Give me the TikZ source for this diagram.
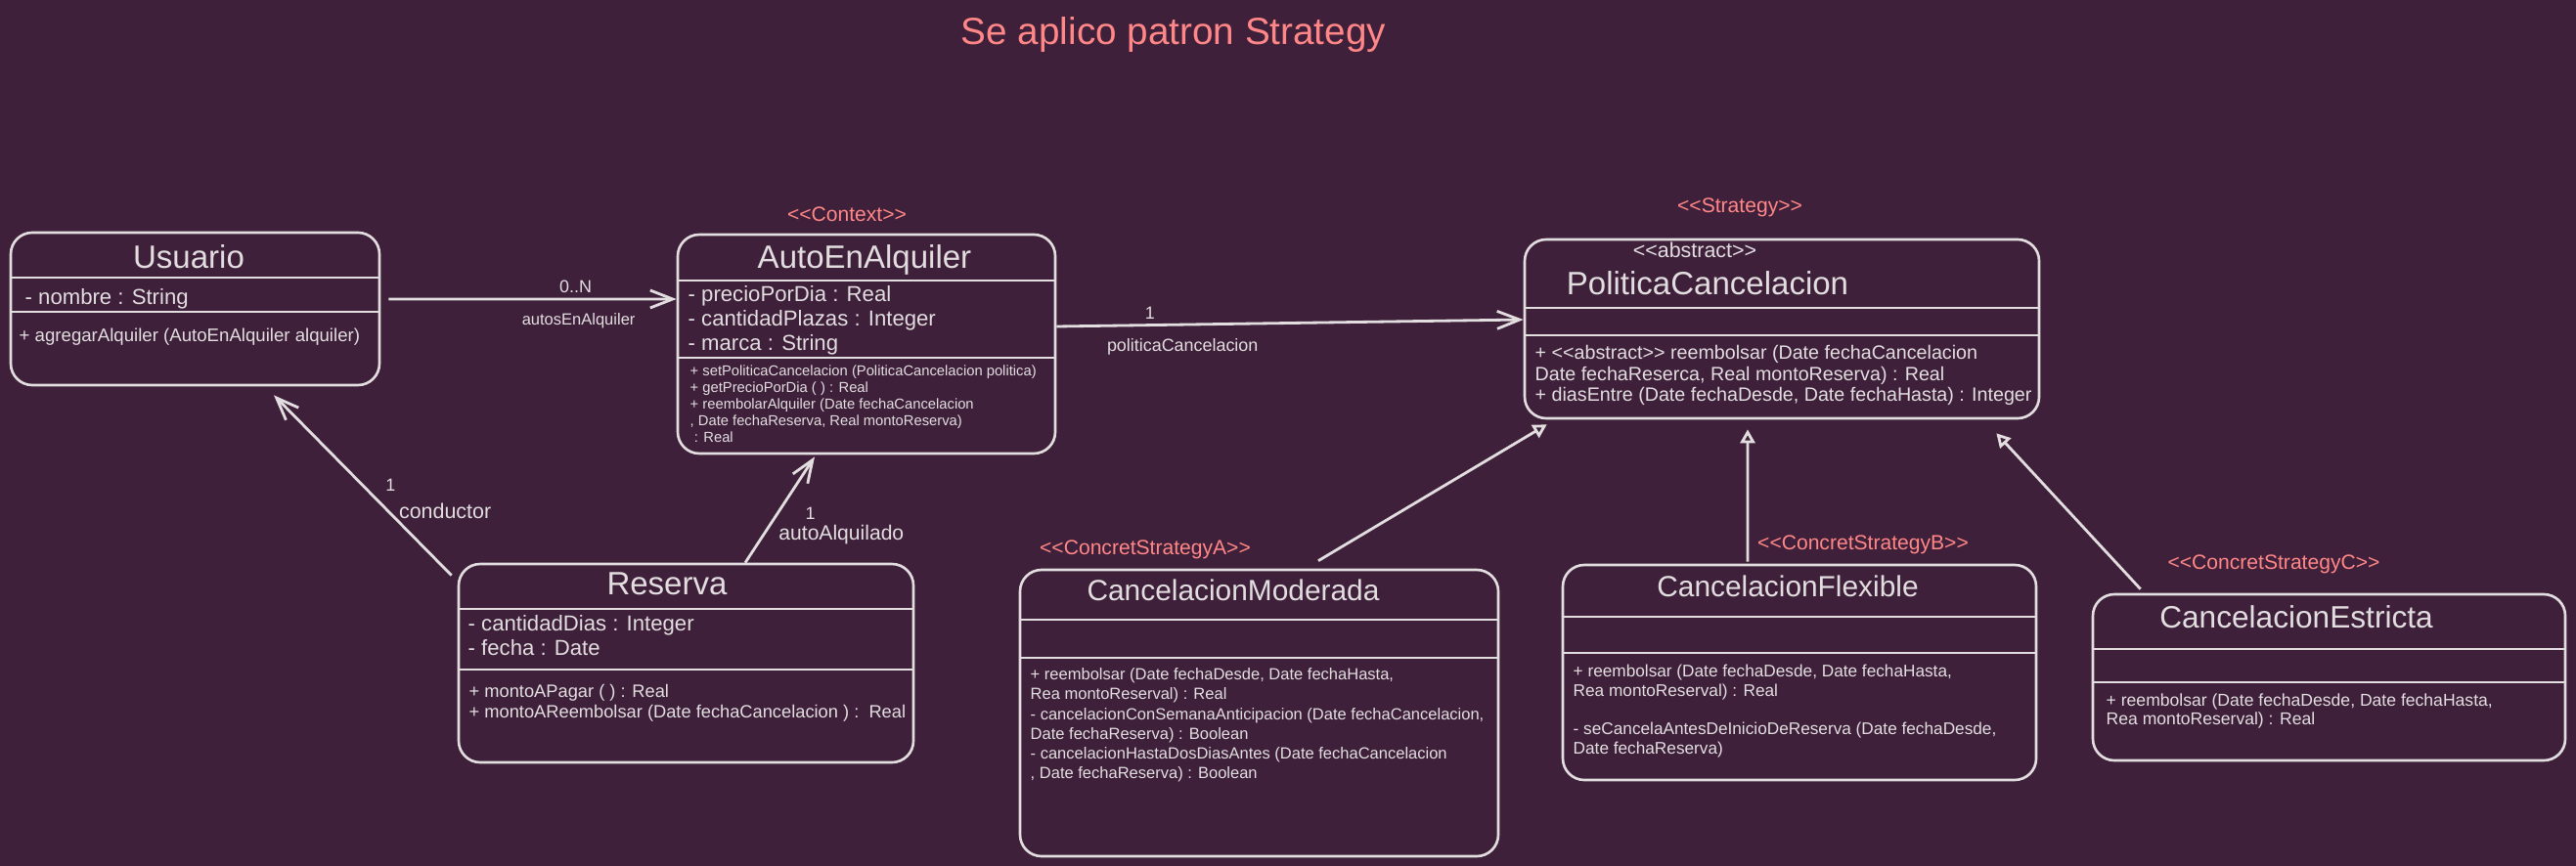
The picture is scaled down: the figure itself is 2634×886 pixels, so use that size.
\documentclass[tikz,border=0pt]{standalone}
\usepackage{fontspec}
\usepackage{tikz}
\usetikzlibrary{arrows.meta, positioning, calc}
\newfontfamily\hand{Liberation Sans}
\definecolor{bgcolor}{RGB}{63,32,58}
\definecolor{inkcolor}{RGB}{226,222,224}
\definecolor{stereocolor}{RGB}{255,135,135}
\tikzset{
  classbox/.style={draw=inkcolor, line width=0.75pt, rounded corners=2.2mm,
                   inner sep=0pt},
  divider/.style={draw=inkcolor, line width=0.75pt},
  classname/.style={font=\hand\fontsize{#1}{#1}\selectfont, text=inkcolor,
                    inner sep=0pt, anchor=base},
  classname/.default=9.4,
  attr/.style={font=\hand\fontsize{6.3}{7.1}\selectfont, text=inkcolor,
               inner sep=0pt, align=left, anchor=north west},
  meth/.style 2 args={font=\hand\fontsize{#1}{#2}\selectfont, text=inkcolor,
                      inner sep=0pt, align=left, anchor=north west},
  stereo/.style={font=\hand\fontsize{6}{7}\selectfont, text=stereocolor,
                 inner sep=0pt},
  lbl/.style={font=\hand\fontsize{5.1}{6}\selectfont, text=inkcolor,
              inner sep=0.5mm},
  assoc/.style={-{Straight Barb[length=2.3mm, width=1.8mm]},
                line width=0.8pt, draw=inkcolor},
  realize/.style={-{Triangle[open, length=1.4mm, width=1.5mm]},
                  line width=0.8pt, draw=inkcolor},
}
\begin{document}
\begin{tikzpicture}[x=0.1mm, y=-0.1mm]

  \fill[bgcolor] (0,0) rectangle (2634,886);
  \useasboundingbox (0,0) rectangle (2634,886);

  \node[stereo, font=\hand\fontsize{11}{13}\selectfont]
    (heading) at (1200,36) {Se aplico patron Strategy};

  % Usuario
  \node[classbox, minimum width=37.7mm, minimum height=15.6mm]
    (usuario) at (199.5,316) {};
  \node[classname] (usuarioname) at (193,275) {Usuario};
  \draw[divider] (usuario.west |- 0,284) -- (usuario.east |- 0,284);
  \node[attr, anchor=base west] (usuarioattr) at (25,311) {- nombre : String};
  \draw[divider] (usuario.west |- 0,319) -- (usuario.east |- 0,319);
  \node[meth={5.3}{6}, anchor=base west]
    (usuariometh) at (19,350) {+ agregarAlquiler (AutoEnAlquiler alquiler)};

  % AutoEnAlquiler (context)
  \node[stereo] (contextlbl) at (866,219) {<<Context>>};
  \node[classbox, minimum width=38.6mm, minimum height=22.4mm]
    (auto) at (886,352) {};
  \node[classname] (autoname) at (884,275) {AutoEnAlquiler};
  \draw[divider] (auto.west |- 0,287) -- (auto.east |- 0,287);
  \node[attr] (autoattr) at (703,292)
    {- precioPorDia : Real\\- cantidadPlazas : Integer\\- marca : String};
  \draw[divider] (auto.west |- 0,366) -- (auto.east |- 0,366);
  \node[meth={4.2}{4.84}] (autometh) at (705,373)
    {+ setPoliticaCancelacion (PoliticaCancelacion politica)\\
     + getPrecioPorDia ( ) : Real\\
     + reembolarAlquiler (Date fechaCancelacion\\
     , Date fechaReserva, Real montoReserva)\\
     \ : Real};

  % PoliticaCancelacion (strategy)
  \node[stereo] (strategylbl) at (1779,212) {<<Strategy>>};
  \node[classbox, minimum width=52.6mm, minimum height=18.3mm]
    (politica) at (1822,336.5) {};
  \node[classname=6.1] (politicaabs) at (1733,264) {<<abstract>>};
  \node[classname] (politicaname) at (1746,302) {PoliticaCancelacion};
  \draw[divider] (politica.west |- 0,315) -- (politica.east |- 0,315);
  \draw[divider] (politica.west |- 0,343) -- (politica.east |- 0,343);
  \node[meth={5.6}{6.12}] (politicameth) at (1569,352.6)
    {+ <<abstract>> reembolsar (Date fechaCancelacion\\
     Date fechaReserca, Real montoReserva) : Real\\
     + diasEntre (Date fechaDesde, Date fechaHasta) : Integer};

  % Reserva
  \node[classbox, minimum width=46.5mm, minimum height=20.3mm]
    (reserva) at (701.5,678.5) {};
  \node[classname] (reservaname) at (682,608) {Reserva};
  \draw[divider] (reserva.west |- 0,623) -- (reserva.east |- 0,623);
  \node[attr] (reservaattr) at (478,629)
    {- cantidadDias : Integer\\- fecha : Date};
  \draw[divider] (reserva.west |- 0,685) -- (reserva.east |- 0,685);
  \node[meth={5.2}{5.98}] (reservameth) at (479,699.7)
    {+ montoAPagar ( ) : Real\\
     + montoAReembolsar (Date fechaCancelacion ) :\ \ Real};

  % Concrete strategies
  \node[stereo] (stratalbl) at (1171,562) {<<ConcretStrategyA>>};
  \node[classbox, minimum width=48.9mm, minimum height=29.3mm]
    (moderada) at (1287.5,729.5) {};
  \node[classname=8.5] (moderadaname) at (1261,614) {CancelacionModerada};
  \draw[divider] (moderada.west |- 0,634) -- (moderada.east |- 0,634);
  \draw[divider] (moderada.west |- 0,673) -- (moderada.east |- 0,673);
  \node[meth={4.7}{5.75}] (moderadameth) at (1053,683)
    {+ reembolsar (Date fechaDesde, Date fechaHasta,\\
     Rea montoReserval) : Real\\
     - cancelacionConSemanaAnticipacion (Date fechaCancelacion,\\
     Date fechaReserva) : Boolean\\
     - cancelacionHastaDosDiasAntes (Date fechaCancelacion\\
     , Date fechaReserva) : Boolean};

  \node[stereo] (stratblbl) at (1905,557) {<<ConcretStrategyB>>};
  \node[classbox, minimum width=48.4mm, minimum height=22mm]
    (flexible) at (1840,688) {};
  \node[classname=8.5] (flexiblename) at (1828,610) {CancelacionFlexible};
  \draw[divider] (flexible.west |- 0,631) -- (flexible.east |- 0,631);
  \draw[divider] (flexible.west |- 0,668) -- (flexible.east |- 0,668);
  \node[meth={4.9}{5.62}] (flexiblemeth) at (1608,679.4)
    {+ reembolsar (Date fechaDesde, Date fechaHasta,\\
     Rea montoReserval) : Real\\[5.62pt]
     - seCancelaAntesDeInicioDeReserva (Date fechaDesde,\\
     Date fechaReserva)};

  \node[stereo] (stratclbl) at (2325,577) {<<ConcretStrategyC>>};
  \node[classbox, minimum width=48.3mm, minimum height=17mm]
    (estricta) at (2381.5,693) {};
  \node[classname=9] (estrictaname) at (2348,642) {CancelacionEstricta};
  \draw[divider] (estricta.west |- 0,664) -- (estricta.east |- 0,664);
  \draw[divider] (estricta.west |- 0,698) -- (estricta.east |- 0,698);
  \node[meth={5}{5.3}] (estrictameth) at (2153,709)
    {+ reembolsar (Date fechaDesde, Date fechaHasta,\\
     Rea montoReserval) : Real};

  % Associations
  \draw[assoc] ([xshift=0.8mm, yshift=1mm]usuario.east)
    -- ([yshift=4.6mm]auto.west)
    node[lbl, above, pos=0.65] (usuariomult) {0..N}
    node[lbl, below, pos=0.66, yshift=-0.8mm,
         font=\hand\fontsize{4.7}{5.5}\selectfont] (usuariorole) {autosEnAlquiler};
  \draw[assoc] ([yshift=1.8mm]auto.east)
    -- ([yshift=0.95mm]politica.west)
    node[lbl, above, pos=0.2] (automult) {1}
    node[lbl, below, pos=0.27, yshift=-0.8mm] (autorole) {politicaCancelacion};
  \draw[assoc] ([xshift=-0.6mm, yshift=-1.3mm]reserva.north west)
    -- ([xshift=8.05mm, yshift=-0.9mm]usuario.south)
    node[lbl, pos=0.5, anchor=west, xshift=1.7mm] (conductormult) {1}
    node[lbl, pos=0.358, anchor=west, xshift=0.5mm,
         font=\hand\fontsize{6.1}{7}\selectfont] (conductorrole) {conductor};
  \draw[assoc] ([xshift=6.05mm]reserva.north)
    -- ([xshift=-5.3mm, yshift=-0.2mm]auto.south)
    node[lbl, pos=0.468, anchor=west, xshift=2.2mm] (alquiladomult) {1}
    node[lbl, pos=0.261, anchor=west, xshift=0.95mm,
         font=\hand\fontsize{6}{7}\selectfont] (alquiladorole) {autoAlquilado};

  % Realizations
  \draw[realize] ([xshift=6.05mm, yshift=0.8mm]moderada.north)
    -- ([xshift=2.4mm, yshift=-0.5mm]politica.south west);
  \draw[realize] ([xshift=-5.3mm, yshift=0.2mm]flexible.north)
    -- ([xshift=-3.5mm, yshift=-1mm]politica.south);
  \draw[realize] ([xshift=5mm, yshift=0.4mm]estricta.north west)
    -- ([xshift=-4.5mm, yshift=-1.4mm]politica.south east);

\end{tikzpicture}
\end{document}
